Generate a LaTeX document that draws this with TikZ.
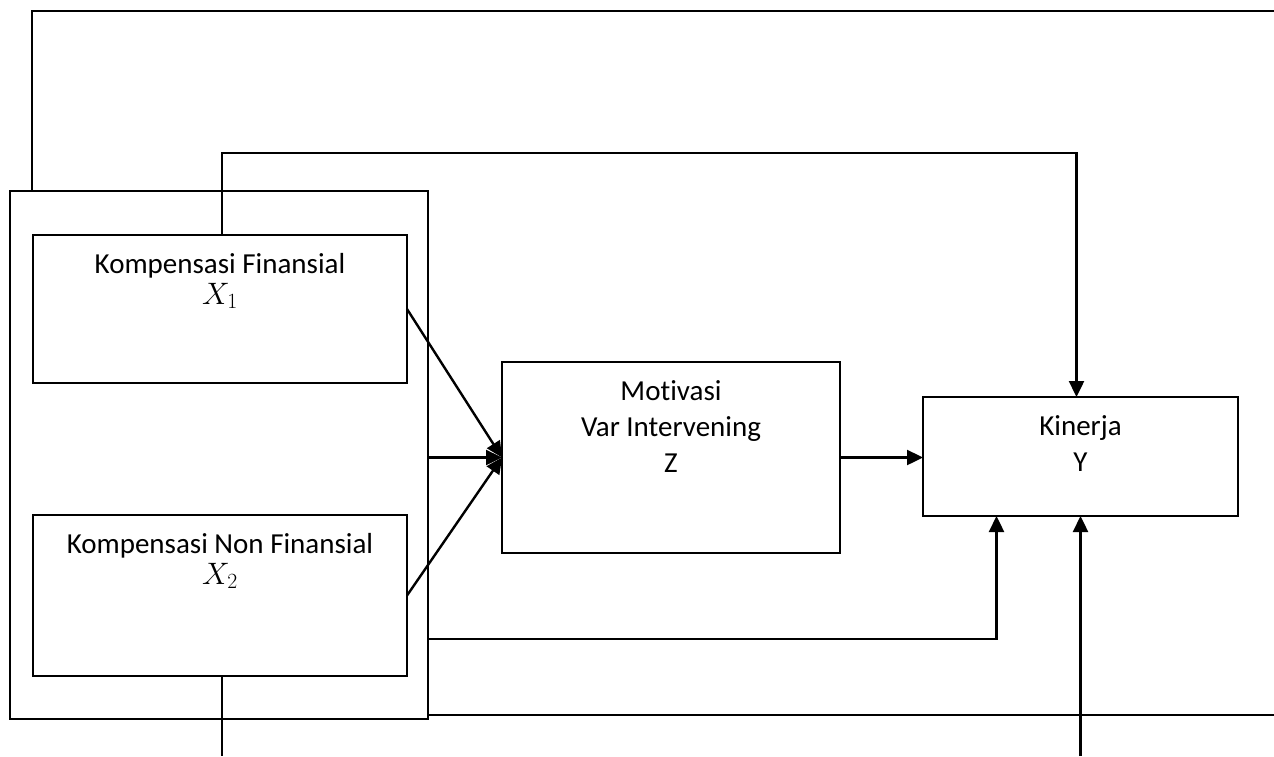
\RequirePackage{fix-cm}
\documentclass[tikz,border=0pt]{standalone}
\usepackage{fontspec}
\setmainfont{Carlito}[Ligatures=NoCommon]
\usetikzlibrary{arrows.meta,calc,positioning}
\tikzset{
	varbox/.style={draw, outer sep=0, inner sep=0},
	varlab/.style={anchor=north, align=center, inner sep=0, yshift=-17pt}
}
\newcommand{\varsz}{\fontsize{29}{36}\selectfont}
\newcommand{\xvar}[1]{{\fontsize{31}{36}\selectfont$X_{#1}$}}

\begin{document}
\begin{tikzpicture}[x=1pt, y=-1pt, line width=2.4pt,
				>={Triangle[length=16pt,width=15pt]}, font=\varsz]
				\useasboundingbox (0,0) rectangle (1274,756);
				\coordinate (rimT) at (1274,11);
				\coordinate (rimR) at (1274,715);
				\coordinate (rimB) at (0,756);
				
				\node[varbox, minimum width=418pt, minimum height=528pt] (comp) at (219,455) {};
				\node[varbox, minimum width=374pt, minimum height=148pt,
					label={[varlab]north:{Kompensasi Finansial\\[-5pt]\xvar{1}}}] (fin) at (220,309) {};
				\node[varbox, minimum width=374pt, minimum height=161pt,
					label={[varlab]north:{Kompensasi Non Finansial\\[-5pt]\xvar{2}}}] (nonfin) at (220,595.5) {};
				\node[varbox, minimum width=338pt, minimum height=191pt,
					label={[varlab]north:{Motivasi\\Var Intervening\\Z}}] (mot) at (671,457.5) {};
				\node[varbox, minimum width=315pt, minimum height=119pt,
					label={[varlab]north:{Kinerja\\Y}}] (kin) at (1080.5,456.5) {};
				
				\draw[->] (fin.east) -- (mot.west);
				\draw[->] (comp.east |- mot.west) -- (mot.west);
				\draw[->] (nonfin.east) -- (mot.west);
				\draw[->] (mot.east) -- (mot.east -| kin.west);
				
				\draw[->] ([xshift=2pt]fin.north) -- ++(0,-82) -| ([xshift=-4pt]kin.north);
				\draw[->] ([yshift=-184pt]comp.east) -| ([xshift=-84pt]kin.south);
				\draw[->] (kin.south |- rimB) -- (kin.south);
				
				% outer loop, runs off the page
				\draw ([xshift=22pt]comp.north west) |- (rimT);
				\draw (comp.east |- rimR) -- (rimR);
				\draw ([xshift=2pt]nonfin.south) -- ([xshift=2pt]nonfin.south |- rimB);
			\end{tikzpicture}
\end{document}
